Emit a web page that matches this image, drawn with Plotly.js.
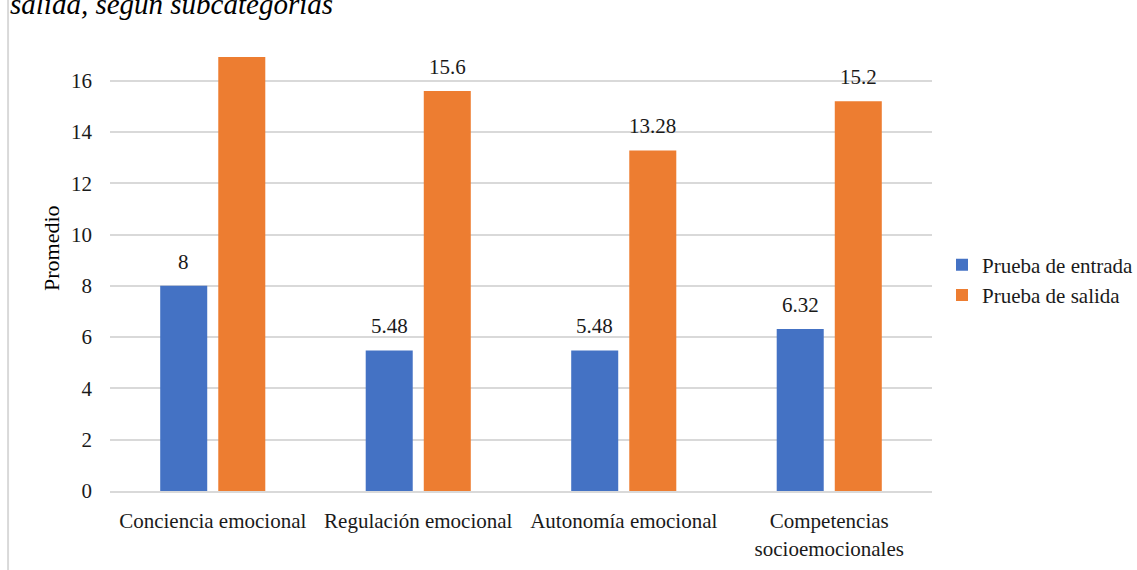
<!DOCTYPE html>
<html>
<head>
<meta charset="utf-8">
<script src="https://cdn.plot.ly/plotly-3.0.1.min.js"></script>
<style>html,body{margin:0;padding:0;background:#fff;}#chart{width:1137px;height:570px;}</style>
</head>
<body>
<div id="chart"></div>
<script>
const categories = ["Conciencia emocional", "Regulación emocional", "Autonomía emocional", "Competencias<br>socioemocionales"];
const entrada = [8, 5.48, 5.48, 6.32];
const salida = [16.92, 15.6, 13.28, 15.2];
const seriesNames = ["Prueba de entrada", "Prueba de salida"];
const yTicks = [0, 2, 4, 6, 8, 10, 12, 14, 16];

const font = "Liberation Serif";
const txtColor = "#1a1a1a";
const FS = 21;
const yMax = 17;
const plotH = 570 - 55 - 79;

const traces = [
  {type: "bar", name: seriesNames[0], x: categories, y: entrada, marker: {color: "#4472C4"}},
  {type: "bar", name: seriesNames[1], x: categories, y: salida, marker: {color: "#ED7D31"}}
];

// value labels above bars (clipped like the source when they would leave the plot area)
const labelGap = 16, glyphH = 15, slot = 58;
const annotations = [];
[[entrada, -slot / 2], [salida, slot / 2]].forEach(([vals, dx]) => {
  vals.forEach((v, i) => {
    const topPx = v / yMax * plotH + labelGap + glyphH;
    if (topPx > plotH + 6) return;
    annotations.push({
      x: categories[i], y: v, xref: "x", yref: "y", text: String(v), showarrow: false,
      xshift: dx, yshift: 10, yanchor: "bottom", xanchor: "center",
      font: {family: font, size: FS, color: txtColor}
    });
  });
});
annotations.push({
  text: "Promedio", xref: "paper", yref: "paper", x: (52 - 110) / 822, y: (491 - 248) / plotH,
  xanchor: "center", yanchor: "middle", textangle: -90, showarrow: false,
  font: {family: font, size: 22, color: "#000"}
});
annotations.push({
  text: "<i>salida, según subcategorías</i>", xref: "paper", yref: "paper",
  x: -0.124, xanchor: "left", y: 1.158, yanchor: "top", showarrow: false,
  font: {family: font, size: 29, color: "#000"}
});

const layout = {
  width: 1137, height: 570,
  margin: {l: 110, r: 205, t: 55, b: 79, autoexpand: false},
  paper_bgcolor: "#fff", plot_bgcolor: "#fff",
  font: {family: font, size: FS, color: txtColor},
  barmode: "group", bargap: 0.435, bargroupgap: 0.19,
  showlegend: true,
  legend: {xref: "container", yref: "container", x: 942 / 1137, xanchor: "left",
           y: (570 - 280) / 570, yanchor: "middle",
           font: {family: font, size: FS, color: txtColor}, itemwidth: 30},
  xaxis: {showgrid: false, showline: true, linecolor: "#d9d9d9", linewidth: 2,
          tickfont: {family: font, size: FS, color: txtColor}, ticks: "", ticklabelstandoff: 10, fixedrange: true},
  yaxis: {range: [0, yMax], tickvals: yTicks, showgrid: true, gridcolor: "#d9d9d9", gridwidth: 2,
          zeroline: false, showline: false, ticks: "", ticklabelstandoff: 17,
          tickfont: {family: font, size: FS, color: txtColor}},
  annotations: annotations,
  shapes: [{type: "line", xref: "paper", yref: "paper", x0: -0.124, x1: -0.124, y0: -0.2, y1: 1.15,
            line: {color: "#d9d9d9", width: 2}}]
};

Plotly.newPlot("chart", traces, layout, {displayModeBar: false, staticPlot: true});
</script>
</body>
</html>
